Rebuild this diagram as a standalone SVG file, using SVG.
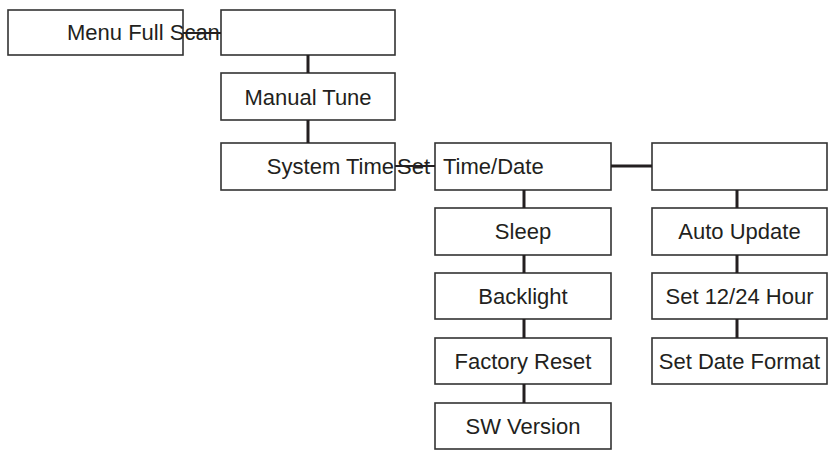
<svg xmlns="http://www.w3.org/2000/svg" width="829" height="451" viewBox="0 0 829 451">
<style>
rect{fill:#fff;stroke:#333;stroke-width:1.6}
text{font-family:"Liberation Sans",Arial,sans-serif;font-size:22px;fill:#231f20}
.c{text-anchor:middle}
#connectors line{stroke:#231f20;stroke-width:3}
#connectors line.h{stroke-width:2}
</style>
<rect x="0" y="0" width="829" height="451" style="fill:#fff;stroke:none"/>
<g id="n1"><rect x="8" y="10" width="175" height="45"/><text x="67" y="40">Menu Full Scan</text></g>
<g id="n2"><rect x="221" y="10" width="174" height="45"/></g>
<g id="n3"><rect x="221" y="73" width="174" height="47"/><text class="c" x="308" y="105">Manual Tune</text></g>
<g id="n4"><rect x="221" y="143" width="174" height="47"/><text x="394" y="174" text-anchor="end">System Time</text></g>
<g id="n5"><rect x="435" y="143" width="176" height="47"/><text x="397" y="174">Set <tspan x="443">Time/Date</tspan></text></g>
<g id="n6"><rect x="435" y="208" width="176" height="47"/><text class="c" x="523" y="239">Sleep</text></g>
<g id="n7"><rect x="435" y="273" width="176" height="46"/><text class="c" x="523" y="304">Backlight</text></g>
<g id="n8"><rect x="435" y="338" width="176" height="46"/><text class="c" x="523" y="369">Factory Reset</text></g>
<g id="n9"><rect x="435" y="403" width="176" height="46"/><text class="c" x="523" y="434">SW Version</text></g>
<g id="n10"><rect x="652" y="143" width="175" height="47"/></g>
<g id="n11"><rect x="652" y="208" width="175" height="47"/><text class="c" x="739.5" y="239">Auto Update</text></g>
<g id="n12"><rect x="652" y="273" width="175" height="46"/><text class="c" x="739.5" y="304">Set 12/24 Hour</text></g>
<g id="n13"><rect x="652" y="338" width="175" height="46"/><text class="c" x="739.5" y="369">Set Date Format</text></g>
<g id="connectors">
<line class="h" x1="183" y1="33" x2="221" y2="33"/>
<line x1="308" y1="55" x2="308" y2="73"/>
<line x1="308" y1="120" x2="308" y2="143"/>
<line class="h" x1="395" y1="166" x2="435" y2="166"/>
<line x1="611" y1="166" x2="652" y2="166"/>
<line x1="524" y1="190" x2="524" y2="208"/>
<line x1="524" y1="255" x2="524" y2="273"/>
<line x1="524" y1="319" x2="524" y2="338"/>
<line x1="524" y1="384" x2="524" y2="403"/>
<line x1="737" y1="190" x2="737" y2="208"/>
<line x1="737" y1="255" x2="737" y2="273"/>
<line x1="737" y1="319" x2="737" y2="338"/>
</g>
</svg>
